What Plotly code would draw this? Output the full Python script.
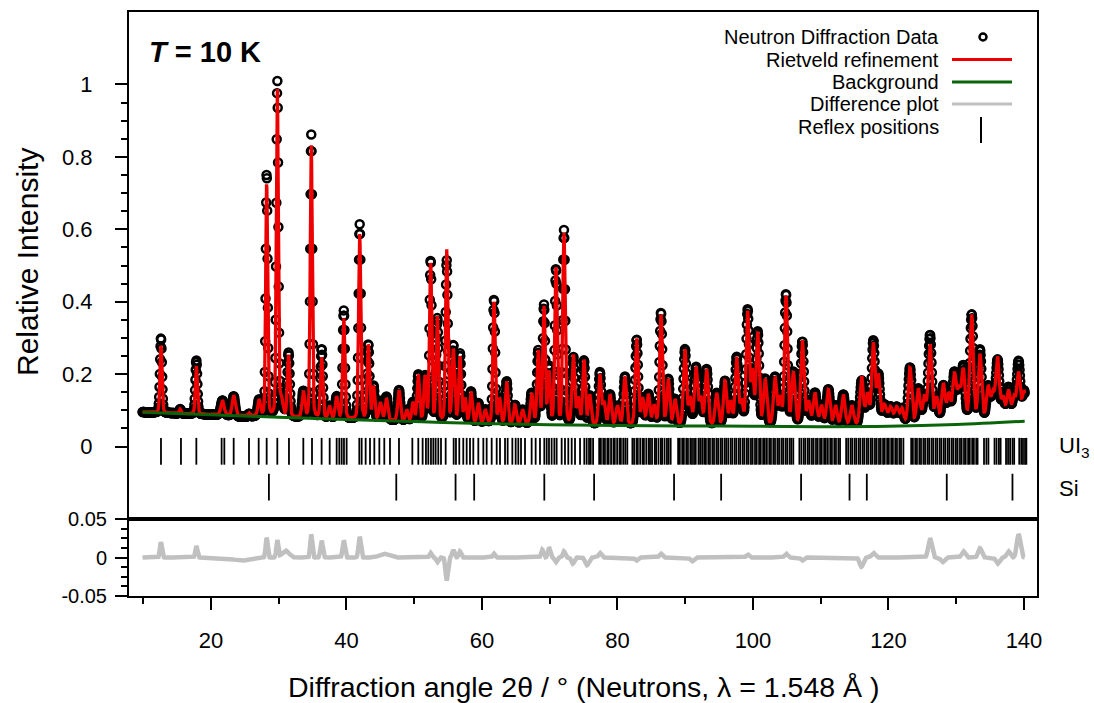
import numpy as np
import plotly.graph_objects as go

# ---------------- data ----------------
# background (green) nodes
bg_x = [9.9, 20, 30, 40, 50, 60, 70, 80, 90, 100, 110, 120, 130, 140.1]
bg_y = [0.095, 0.088, 0.081, 0.075, 0.069, 0.064, 0.060, 0.058, 0.057, 0.056, 0.055, 0.056, 0.061, 0.070]

# calculated (Rietveld) peaks: position (deg 2theta), top value, FWHM (deg)
peak_pos = [12.62, 15.45, 17.84, 21.7, 23.35, 25.6, 27.1, 28.22, 29.79, 30.4, 31.45, 33.63, 34.8, 36.33,
            37.5, 38.55, 39.6, 41.95, 43.22, 44.0, 45.0, 45.9, 47.75, 48.9, 49.8, 50.6, 51.6, 52.42,
            53.41, 54.79, 55.77, 56.75, 57.5, 58.38, 59.46, 60.5, 61.77, 62.6, 63.64, 64.87, 66.0,
            67.33, 68.3, 69.15, 69.9, 70.92, 72.1, 73.48, 74.2, 75.06, 75.9, 77.4, 78.0, 78.9, 80.0,
            81.1, 82.83, 83.7, 84.55, 85.4, 86.42, 87.5, 88.5, 89.96, 90.7, 91.6, 92.3, 93.16, 94.64,
            95.87, 96.7, 97.59, 98.3, 99.21, 99.9, 100.69, 101.8, 103.25, 104.0, 104.87, 105.96,
            107.28, 108.2, 109.15, 110.1, 111.12, 112.2, 113.33, 114.6, 116.04, 116.9, 117.76, 118.5,
            119.4, 120.3, 121.2, 122.0, 123.17, 124.4, 125.3, 126.13, 127.1, 128.1, 128.9, 129.72,
            130.4, 131.05, 132.28, 133.5, 134.7, 135.4, 136.1, 136.9, 137.7, 138.5, 139.2, 140.0]
peak_top = [0.280, 0.103, 0.223, 0.127, 0.141, 0.092, 0.127, 0.728, 0.985, 0.125, 0.250, 0.150, 0.830, 0.245,
            0.110, 0.136, 0.352, 0.585, 0.279, 0.164, 0.120, 0.132, 0.155, 0.100, 0.120, 0.196, 0.190, 0.505,
            0.355, 0.541, 0.265, 0.245, 0.130, 0.150, 0.118, 0.100, 0.400, 0.130, 0.178, 0.113, 0.100,
            0.145, 0.260, 0.382, 0.200, 0.492, 0.585, 0.250, 0.130, 0.236, 0.140, 0.196, 0.120, 0.141, 0.110,
            0.191, 0.297, 0.130, 0.141, 0.110, 0.362, 0.182, 0.127, 0.265, 0.130, 0.215, 0.130, 0.210, 0.145,
            0.178, 0.120, 0.242, 0.120, 0.367, 0.200, 0.311, 0.182, 0.187, 0.130, 0.412, 0.200,
            0.290, 0.120, 0.145, 0.110, 0.155, 0.110, 0.141, 0.110, 0.190, 0.140, 0.280, 0.191,
            0.110, 0.105, 0.105, 0.100, 0.215, 0.155, 0.130, 0.278, 0.130, 0.168, 0.140, 0.196,
            0.150, 0.205, 0.360, 0.250, 0.160, 0.140, 0.240, 0.130, 0.150, 0.130, 0.200, 0.150]
peak_fwhm = [0.35, 0.30, 0.35, 0.55, 0.50, 0.35, 0.45, 0.33, 0.35, 0.50, 0.40, 0.45, 0.35, 0.40,
             0.40, 0.45, 0.38, 0.38, 0.40, 0.40, 0.45, 0.45, 0.45, 0.40, 0.40, 0.42, 0.40, 0.38,
             0.40, 0.38, 0.42, 0.42, 0.40, 0.42, 0.42, 0.40, 0.40, 0.40, 0.42, 0.45, 0.45,
             0.45, 0.42, 0.42, 0.40, 0.42, 0.42, 0.45, 0.45, 0.45, 0.45, 0.45, 0.45, 0.45, 0.50,
             0.50, 0.48, 0.50, 0.50, 0.50, 0.48, 0.50, 0.50, 0.50, 0.50, 0.55, 0.50, 0.52, 0.52,
             0.52, 0.50, 0.52, 0.50, 0.50, 0.50, 0.52, 0.55, 0.55, 0.50, 0.52, 0.55,
             0.55, 0.55, 0.60, 0.55, 0.60, 0.55, 0.60, 0.60, 0.60, 0.55, 0.55, 0.55,
             0.70, 0.70, 0.70, 0.60, 0.60, 0.60, 0.60, 0.60, 0.60, 0.60, 0.60, 0.60,
             0.60, 0.60, 0.60, 0.60, 0.60, 0.60, 0.60, 0.60, 0.60, 0.60, 0.60, 0.60]

# difference (obs - calc) features: position, amplitude, FWHM
diff_pos = [12.62, 17.84, 24.5, 28.22, 29.79, 31.0, 34.8, 36.33, 39.6, 41.95, 45.5, 52.42, 53.41,
            54.79, 55.77, 56.75, 61.77, 68.9, 69.9, 70.92, 72.1, 73.4, 75.5, 77.4, 82.8, 86.4,
            91.0, 99.2, 104.87, 107.3, 116.0, 117.76, 126.13, 128.0, 131.05, 133.5, 136.1, 137.7, 139.2]
diff_amp = [0.020, 0.015, -0.004, 0.026, 0.022, 0.009, 0.030, 0.022, 0.022, 0.027, 0.005, 0.006, -0.006,
            -0.030, 0.010, 0.008, 0.005, 0.010, 0.013, -0.006, 0.008, -0.008, -0.010, 0.006, -0.004, 0.005,
            -0.005, 0.004, 0.005, -0.004, -0.012, 0.006, 0.025, -0.006, 0.008, 0.012, -0.008, 0.008, 0.030]
diff_fwhm = [0.35, 0.35, 3.0, 0.35, 0.35, 1.2, 0.35, 0.40, 0.40, 0.40, 1.5, 0.40, 0.40,
             0.40, 0.40, 0.40, 0.40, 0.40, 0.40, 0.40, 0.40, 0.50, 0.60, 0.50, 0.50, 0.50,
             0.60, 0.50, 0.50, 0.50, 0.60, 0.60, 0.60, 0.60, 0.60, 0.60, 0.60, 0.60, 0.60]

# reflex positions
ui3_reflexes = [12.62, 15.57, 17.84, 21.57, 21.97, 23.35, 25.61, 27.04, 28.22, 29.79, 31.51, 33.63, 34.91,
                36.33, 37.52, 38.55, 38.94, 39.29, 39.63, 40.02, 41.89, 42.24, 42.83, 43.47, 44.11, 44.85,
                45.58, 46.42, 47.75, 49.72, 50.60, 51.24, 51.73, 52.08, 52.47, 52.82, 53.16, 53.55, 53.95,
                54.64, 55.82, 56.16, 56.65, 57.24, 57.74, 58.23, 58.72, 59.46, 60.20, 60.69, 61.43, 62.17,
                62.66, 63.40, 63.79, 64.48, 64.97, 65.36, 65.76, 66.35, 67.33, 67.92, 68.56, 69.20, 69.55,
                69.89, 70.28, 70.68, 71.02, 71.76, 72.25, 72.74, 73.24, 73.73, 74.47, 75.10,
                75.45, 75.8, 76.05, 76.4, 77.3, 77.55, 77.9, 78.15, 78.5, 78.7, 79.05, 79.4, 79.6, 79.95,
                80.3, 80.5, 80.85, 81.15, 81.45, 82.2, 82.45, 82.8, 83.0, 83.35, 83.7, 83.9, 84.25, 84.6,
                84.8, 85.1, 85.5, 85.7, 86.05, 86.4, 86.6, 86.95, 87.3, 87.55, 87.85, 88.95, 89.2, 89.55,
                89.8, 90.15, 90.4, 90.75, 91.0, 91.3, 91.55, 91.95, 92.2, 92.5, 92.8, 93.05, 93.4, 93.65,
                94.0, 94.25, 94.6, 94.85, 95.2, 95.45, 95.8, 96.05, 96.35, 96.7, 96.95, 97.3, 97.55, 97.9,
                98.15, 98.5, 98.75, 99.1, 99.35, 99.7, 99.95, 100.3, 100.55, 100.9, 101.15, 101.5, 101.75,
                102.05, 102.4, 102.65, 103.0, 103.25, 103.6, 103.85, 104.2, 104.45, 104.8, 105.05, 105.4,
                105.65, 105.95, 106.85, 107.15, 107.5, 107.75, 108.1, 108.35, 108.7, 108.95, 109.3, 109.55,
                109.9, 110.15, 110.5, 110.75, 111.05, 111.4, 111.65, 112.0, 112.25, 112.6, 112.85, 113.75,
                114.05, 114.4, 114.65, 115.0, 115.25, 115.6, 115.85, 116.2, 116.45, 116.8, 117.05, 117.4,
                117.65, 118.0, 118.25, 118.6, 118.85, 119.2, 119.45, 119.8, 120.05, 120.4, 120.65, 121.0,
                121.25, 121.6, 121.85, 122.2, 123.35, 123.6, 123.95, 124.2, 124.55, 124.8, 125.15, 125.4,
                125.75, 126.0, 126.35, 126.6, 126.95, 127.2, 127.55, 127.8, 128.15, 128.4, 128.75, 129.0,
                129.35, 129.6, 129.95, 130.2, 130.55, 130.8, 131.15, 131.4, 131.75, 132.0, 132.35, 132.6,
                132.95, 133.15, 134.1, 134.45, 134.75, 135.65, 135.95, 136.3, 136.55, 137.35, 137.65,
                137.95, 138.3, 138.55, 139.3, 139.6, 139.85, 140.15, 140.35]
si_reflexes = [28.55, 47.35, 56.1, 58.85, 69.2, 76.55, 88.35, 95.3, 107.1, 114.25, 116.8, 128.6, 138.3]

# tick labels
x_major = [20, 40, 60, 80, 100, 120, 140]
x_minor = [10, 30, 50, 70, 90, 110, 130]
y_major = [0, 0.2, 0.4, 0.6, 0.8, 1]
y_major_text = ["0", "0.2", "0.4", "0.6", "0.8", "1"]
y_minor = [0.05, 0.1, 0.15, 0.25, 0.3, 0.35, 0.45, 0.5, 0.55, 0.65, 0.7, 0.75, 0.85, 0.9, 0.95]
d_major = [-0.05, 0, 0.05]
d_major_text = ["-0.05", "0", "0.05"]
d_minor = [-0.0375, -0.025, -0.0125, 0.0125, 0.025, 0.0375]

legend_labels = ["Neutron Diffraction Data", "Rietveld refinement", "Background",
                 "Difference plot", "Reflex positions"]

# ---------------- build the profiles ----------------
two_theta = np.arange(9.9, 140.1001, 0.05)


def pv(x, c, w, eta=0.2):
    d2 = 4.0 * (x - c) ** 2 / (w * w)
    return eta / (1.0 + d2) + (1 - eta) * np.exp(-np.log(2) * d2)


bg = np.interp(two_theta, bg_x, bg_y)
calc = bg.copy()
for p, t, w in zip(peak_pos, peak_top, peak_fwhm):
    calc += (t - np.interp(p, bg_x, bg_y)) * pv(two_theta, p, w)
diff = np.zeros_like(two_theta)
for p, a, w in zip(diff_pos, diff_amp, diff_fwhm):
    diff += a * pv(two_theta, p, w, 0.0)
obs = calc + diff

FONT = "Liberation Sans, Arial, sans-serif"
fig = go.Figure()

# observed data
fig.add_trace(go.Scatter(x=two_theta, y=obs, mode="markers", xaxis="x2", yaxis="y",
                         marker=dict(symbol="circle-open", size=8, color="black",
                                     line=dict(width=2.5, color="black")),
                         hoverinfo="skip"))
# calculated
fig.add_trace(go.Scatter(x=two_theta, y=calc, mode="lines", xaxis="x2", yaxis="y",
                         line=dict(color="#ee0000", width=3.3), hoverinfo="skip"))
# background
fig.add_trace(go.Scatter(x=bg_x, y=bg_y, mode="lines", xaxis="x2", yaxis="y", line_shape="spline",
                         line=dict(color="#0a640a", width=3), hoverinfo="skip"))


def bars(pos, y0, y1):
    xs, ys = [], []
    for p in pos:
        xs += [p, p, None]
        ys += [y0, y1, None]
    return xs, ys


ux, uy = bars(ui3_reflexes, 0.024, -0.05)
fig.add_trace(go.Scatter(x=ux, y=uy, mode="lines", xaxis="x2", yaxis="y",
                         line=dict(color="black", width=1.8), hoverinfo="skip"))
sx, sy = bars(si_reflexes, -0.075, -0.149)
fig.add_trace(go.Scatter(x=sx, y=sy, mode="lines", xaxis="x2", yaxis="y",
                         line=dict(color="black", width=1.8), hoverinfo="skip"))

# difference
fig.add_trace(go.Scatter(x=two_theta, y=diff, mode="lines", xaxis="x", yaxis="y2",
                         line=dict(color="#c0c0c0", width=4.5), hoverinfo="skip"))

# ---------------- layout ----------------
L, R, T, B = 129, 57, 12, 107
W, H = 1094, 703
pw, ph = W - L - R, H - T - B
split = (596 - 519) / ph


def px(xp):
    return (xp - L) / pw


def py(yp):
    return (H - B - yp) / ph


axis_common = dict(showgrid=False, zeroline=False, showline=True, linecolor="black", linewidth=2,
                   mirror=True, tickcolor="black", tickwidth=2)

fig.update_layout(
    width=W, height=H, autosize=False,
    margin=dict(l=L, r=R, t=T, b=B, autoexpand=False),
    paper_bgcolor="white", plot_bgcolor="white",
    showlegend=False,
    xaxis=dict(domain=[0, 1], anchor="y2", range=[7.9, 141.92], ticks="outside", ticklen=12,
               tickmode="array", tickvals=x_major, ticklabelstandoff=12,
               tickfont=dict(family=FONT, size=22, color="black"),
               minor=dict(tickmode="array", tickvals=x_minor, ticks="outside", ticklen=6,
                          tickwidth=2, tickcolor="black"),
               **axis_common),
    xaxis2=dict(domain=[0, 1], anchor="y", matches="x", range=[7.9, 141.92], ticks="",
                showticklabels=False, **axis_common),
    yaxis=dict(domain=[split, 1], anchor="x2", range=[-0.2, 1.2], ticks="outside", ticklen=12,
               tickmode="array", tickvals=y_major, ticktext=y_major_text, ticklabelstandoff=18,
               tickfont=dict(family=FONT, size=22, color="black"),
               minor=dict(tickmode="array", tickvals=y_minor, ticks="outside", ticklen=6,
                          tickwidth=2, tickcolor="black"),
               **axis_common),
    yaxis2=dict(domain=[0, split], anchor="x", range=[-0.05, 0.05], ticks="outside", ticklen=12,
                tickmode="array", tickvals=d_major, ticktext=d_major_text, ticklabelstandoff=4,
                tickfont=dict(family=FONT, size=20, color="black"),
                minor=dict(tickmode="array", tickvals=d_minor, ticks="outside", ticklen=6,
                           tickwidth=2, tickcolor="black"),
                **axis_common),
)

ann = []
# axis titles
ann.append(dict(text="Relative Intensity", x=px(27), y=py(262), xref="paper", yref="paper",
                textangle=-90, showarrow=False, xanchor="center", yanchor="middle",
                font=dict(family=FONT, size=30, color="black")))
ann.append(dict(text="Diffraction angle 2θ / ° (Neutrons, λ = 1.548 Å )", x=px(583.5), y=py(687),
                xref="paper", yref="paper", showarrow=False, xanchor="center", yanchor="middle",
                font=dict(family=FONT, size=28.5, color="black")))
# temperature label
ann.append(dict(text="<b><i>T</i> = 10 K</b>", x=px(147), y=py(52), xref="paper", yref="paper",
                showarrow=False, xanchor="left", yanchor="middle",
                font=dict(family=FONT, size=29, color="black")))
# phase labels
ann.append(dict(text="UI<sub>3</sub>", x=px(1057), y=py(447), xref="paper", yref="paper",
                showarrow=False, xanchor="left", yanchor="middle",
                font=dict(family=FONT, size=22, color="black")))
ann.append(dict(text="Si", x=px(1057), y=py(488), xref="paper", yref="paper",
                showarrow=False, xanchor="left", yanchor="middle",
                font=dict(family=FONT, size=22, color="black")))
# legend texts
leg_y = [37, 59.5, 82, 104, 127]
for lab, yy in zip(legend_labels, leg_y):
    ann.append(dict(text=lab, x=px(941), y=py(yy), xref="paper", yref="paper", showarrow=False,
                    xanchor="right", yanchor="middle", font=dict(family=FONT, size=20, color="black")))
fig.update_layout(annotations=ann)

shapes = []
shapes.append(dict(type="circle", xref="paper", yref="paper", xsizemode="pixel", ysizemode="pixel",
                   xanchor=px(983), yanchor=py(37), x0=-3.5, x1=3.5, y0=-3.5, y1=3.5,
                   line=dict(color="black", width=2.5)))
for col, yy in zip(["#ee0000", "#0a640a", "#c0c0c0"], leg_y[1:4]):
    shapes.append(dict(type="line", xref="paper", yref="paper", x0=px(952), x1=px(1012),
                       y0=py(yy), y1=py(yy), line=dict(color=col, width=3)))
shapes.append(dict(type="line", xref="paper", yref="paper", x0=px(981), x1=px(981),
                   y0=py(117), y1=py(143), line=dict(color="black", width=2)))
fig.update_layout(shapes=shapes)

fig.write_html("out.html")
